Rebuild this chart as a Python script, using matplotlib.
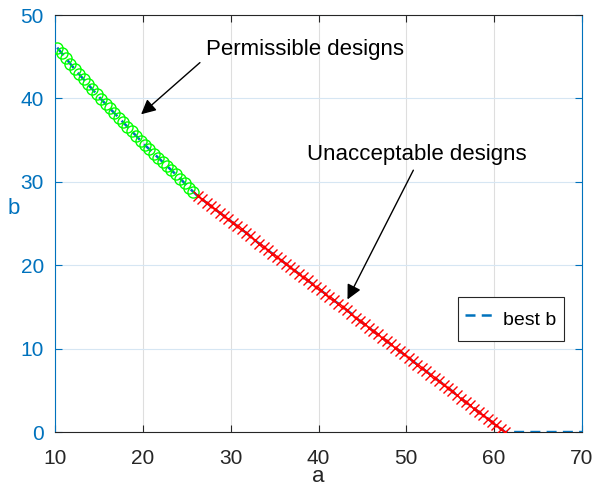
import numpy as np
import matplotlib
matplotlib.use('Agg')
import matplotlib.pyplot as plt

plt.rcParams['font.family'] = ['Liberation Sans', 'DejaVu Sans']

# designs that satisfy the constraint (green circles)
ok_a = [10.25, 10.75, 11.25, 11.75, 12.25, 12.75, 13.25, 13.75, 14.25, 14.75,
        15.25, 15.75, 16.25, 16.75, 17.25, 17.75, 18.25, 18.75, 19.25, 19.75,
        20.25, 20.75, 21.25, 21.75, 22.25, 22.75, 23.25, 23.75, 24.25, 24.75,
        25.25, 25.75]
ok_b = [46.1, 45.45, 44.8, 44.15, 43.5, 42.9, 42.3, 41.7, 41.1, 40.5,
        39.9, 39.35, 38.8, 38.25, 37.7, 37.15, 36.6, 36.05, 35.5, 34.95,
        34.4, 33.9, 33.4, 32.9, 32.4, 31.9, 31.4, 30.9, 30.4, 29.85,
        29.3, 28.8]

# designs that fail (red crosses)
bad_a = [26.25, 26.75, 27.25, 27.75, 28.25, 28.75, 29.25, 29.75, 30.25, 30.75,
         31.25, 31.75, 32.25, 32.75, 33.25, 33.75, 34.25, 34.75, 35.25, 35.75,
         36.25, 36.75, 37.25, 37.75, 38.25, 38.75, 39.25, 39.75, 40.25, 40.75,
         41.25, 41.75, 42.25, 42.75, 43.25, 43.75, 44.25, 44.75, 45.25, 45.75,
         46.25, 46.75, 47.25, 47.75, 48.25, 48.75, 49.25, 49.75, 50.25, 50.75,
         51.25, 51.75, 52.25, 52.75, 53.25, 53.75, 54.25, 54.75, 55.25, 55.75,
         56.25, 56.75, 57.25, 57.75, 58.25, 58.75, 59.25, 59.75, 60.25, 60.75,
         61.25]
bad_b = [28.3, 27.9, 27.5, 27.1, 26.7, 26.3, 25.9, 25.5, 25.1, 24.7,
         24.3, 23.9, 23.5, 23.0, 22.6, 22.2, 21.8, 21.4, 21.0, 20.6,
         20.2, 19.8, 19.4, 19.0, 18.6, 18.2, 17.8, 17.4, 17.0, 16.6,
         16.2, 15.8, 15.4, 15.0, 14.6, 14.2, 13.7, 13.3, 12.9, 12.5,
         12.1, 11.7, 11.3, 10.9, 10.5, 10.1, 9.7, 9.3, 8.9, 8.5,
         8.1, 7.7, 7.3, 6.9, 6.5, 6.1, 5.7, 5.3, 4.9, 4.4,
         4.0, 3.6, 3.2, 2.8, 2.4, 2.0, 1.6, 1.2, 0.8, 0.4,
         0.0]

# best b over the whole range of a
tail_a = [70.0]
tail_b = [0.0]
best_a = ok_a + bad_a + tail_a
best_b = ok_b + bad_b + tail_b

blue = '#0072BD'
dark = '#262626'

fig = plt.figure(figsize=(5.96, 4.86), dpi=100)
ax = fig.add_axes([0.0923, 0.111, 0.8842, 0.858])

ax.plot(best_a, best_b, '--', color=blue, lw=1.8, dashes=(4, 2.5), label='best b', zorder=3)
ax.plot(ok_a, ok_b, 'o', color=(0, 1, 0), mfc='none', ms=8, mew=1.0, zorder=4)
ax.plot(bad_a, bad_b, 'x', color=(1, 0, 0), ms=6.5, mew=1.0, zorder=4)

ax.set_xlim(10, 70)
ax.set_ylim(0, 50)
ax.set_xticks(np.arange(10, 71, 10))
ax.set_yticks(np.arange(0, 51, 10))

# grid: horizontal lines tinted like the y axis
ax.xaxis.grid(True, color='#dedede', lw=0.8)
ax.yaxis.grid(True, color='#d6e6f3', lw=0.8)
ax.set_axisbelow(True)

ax.tick_params(axis='x', direction='in', length=5, colors=dark, labelsize=15,
               top=True, width=0.8, pad=12)
ax.tick_params(axis='y', direction='in', length=5, colors=blue, labelsize=15,
               right=True, width=0.8, pad=8)
ax.spines['left'].set_color(blue)
ax.spines['right'].set_color(blue)
ax.spines['top'].set_color(dark)
ax.spines['bottom'].set_color(dark)
for s in ax.spines.values():
    s.set_linewidth(0.8)

ax.set_xlabel('a', fontsize=16, color=dark, va='center')
ax.set_ylabel('b', fontsize=16, color=blue, rotation=0, va='center', ha='center')
ax.xaxis.set_label_coords(0.5, -0.106)
ax.yaxis.set_label_coords(-0.078, 0.537)

# annotations
ax.text(27.2, 45.9, 'Permissible designs', fontsize=16, color='k', va='center', ha='left')
ax.annotate('', xy=(19.8, 38.1), xytext=(26.5, 44.3),
            arrowprops=dict(arrowstyle='-|>', color='k', lw=1.0, mutation_scale=22,
                            shrinkA=0, shrinkB=0))
ax.text(38.7, 33.25, 'Unacceptable designs', fontsize=16, color='k', va='center', ha='left')
ax.annotate('', xy=(43.3, 15.9), xytext=(50.8, 31.4),
            arrowprops=dict(arrowstyle='-|>', color='k', lw=1.0, mutation_scale=22,
                            shrinkA=0, shrinkB=0))

leg = ax.legend(loc='lower right', bbox_to_anchor=(0.965, 0.218), borderaxespad=0,
                fontsize=14, fancybox=False, edgecolor=dark, framealpha=1,
                handlelength=1.5, handleheight=2.0, handletextpad=0.5, borderpad=0.35)
leg.get_frame().set_linewidth(0.8)

fig.savefig('out.png', dpi=100)
